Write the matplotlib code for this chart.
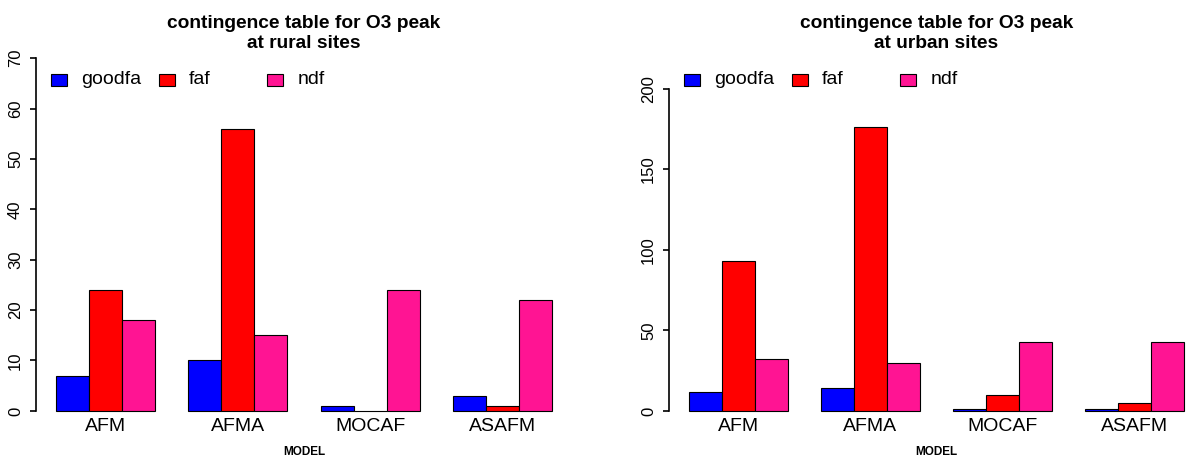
import numpy as np
import matplotlib
matplotlib.use("Agg")
import matplotlib.pyplot as plt
from matplotlib.patches import Rectangle

plt.rcParams['font.family'] = ['Liberation Sans', 'DejaVu Sans']

models = ["AFM", "AFMA", "MOCAF", "ASAFM"]
series = ["goodfa", "faf", "ndf"]
colors = ["#0000FF", "#FF0000", "#FF1493"]

rural_goodfa = [7, 10, 1, 3]
rural_faf = [24, 56, 0, 1]
rural_ndf = [18, 15, 24, 22]

urban_goodfa = [12, 14, 1, 1]
urban_faf = [93, 176, 10, 5]
urban_ndf = [32, 30, 43, 43]

W, H = 1186, 459
fig = plt.figure(figsize=(W / 100, H / 100), dpi=100)


def panel(x0, x1, values, ymax, ytop, ystep, title):
    top, bot = 44, 425
    ax = fig.add_axes([x0 / W, 1 - bot / H, (x1 - x0) / W, (bot - top) / H])
    for s, vals in enumerate(values):
        xs = [1 + 4 * g + s for g in range(len(models))]
        ax.bar(xs, vals, width=1, align="edge", color=colors[s],
               edgecolor="black", linewidth=0.8)
    ax.set_xlim(0.4, 16.6)
    ax.set_ylim(-0.04 * ymax, 1.04 * ymax)
    for sp in ["top", "right", "bottom"]:
        ax.spines[sp].set_visible(False)
    ax.spines["left"].set_bounds(0, ytop)
    ax.spines["left"].set_linewidth(1.2)
    ticks = np.arange(0, ytop + 1, ystep)
    ax.set_yticks(ticks)
    ax.set_yticklabels([str(int(t)) for t in ticks], rotation=90, va="center")
    ax.tick_params(axis="y", length=4.5, width=1.2, pad=5, labelsize=12)
    ax.set_xticks([2.5 + 4 * g for g in range(len(models))])
    ax.set_xticklabels(models)
    ax.tick_params(axis="x", length=0, pad=-5, labelsize=14)
    cx = (x0 + x1) / 2
    fig.text(cx / W, 1 - 33.5 / H, title, ha="center", va="center",
             fontsize=13.8, fontweight="bold", linespacing=1.2)
    fig.text(cx / W, 1 - 452 / H, "MODEL", ha="center", va="center",
             fontsize=8.5, fontweight="bold")
    # legend, R style (horizontal, no box)
    offs = [15, 123, 231]
    for s, name in enumerate(series):
        bx = x0 + offs[s]
        fig.patches.append(Rectangle((bx / W, 1 - 86 / H), 16 / W, 12 / H,
                                     transform=fig.transFigure,
                                     facecolor=colors[s], edgecolor="black",
                                     linewidth=0.8))
        fig.text((bx + 30) / W, 1 - 80 / H, name, ha="left", va="center",
                 fontsize=14)
    return ax


panel(36.2, 571.8, [rural_goodfa, rural_faf, rural_ndf], 70, 70, 10,
      "contingence table for O3 peak\nat rural sites")
panel(669.2, 1203.8, [urban_goodfa, urban_faf, urban_ndf], 219, 200, 50,
      "contingence table for O3 peak\nat urban sites")

fig.savefig("out.png", dpi=100)
